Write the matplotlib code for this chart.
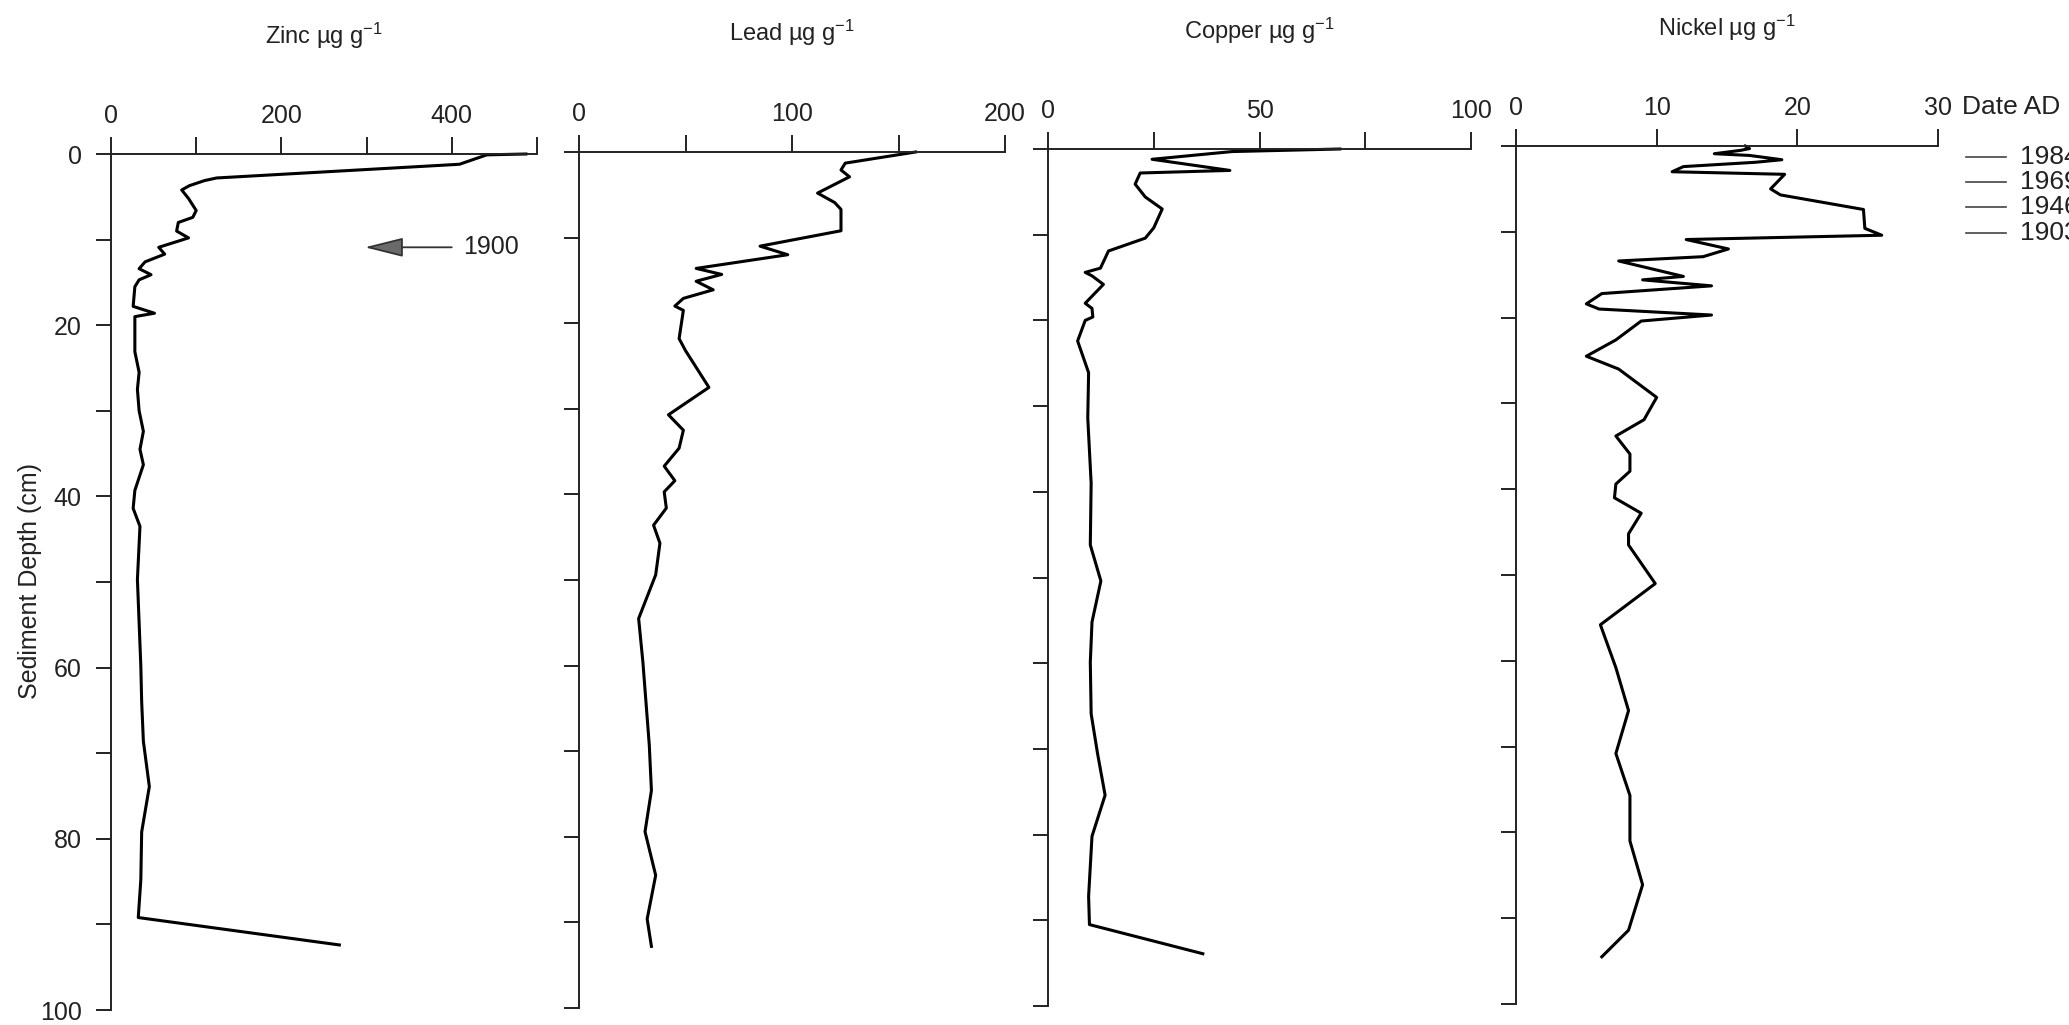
import matplotlib
matplotlib.use("Agg")
import matplotlib.pyplot as plt
from matplotlib.lines import Line2D

plt.rcParams['font.family'] = ['Liberation Sans', 'DejaVu Sans']
plt.rcParams['mathtext.fontset'] = 'custom'
plt.rcParams['mathtext.rm'] = 'Liberation Sans'

# sediment core profiles, depth in cm, concentrations in ug/g
zinc_depth = [0, 0.1, 1.2, 2.8, 3.1, 3.7, 4.2, 5.2, 6.6, 7.4, 8.0, 9.0, 9.8, 10.9,
              11.7, 12.6, 13.4, 14.1, 14.7, 15.5, 17.8, 18.6, 19.0, 23.1, 25.5,
              27.5, 30.0, 32.4, 34.5, 36.3, 39.3, 41.4, 43.5, 49.7, 59.8, 64.0,
              68.6, 73.9, 79.2, 84.8, 89.2, 92.4]
zinc = [487, 441, 409, 124, 110, 92, 83, 91, 100, 96, 79, 77, 91, 56,
        63, 40, 33, 47, 33, 28, 26, 51, 28, 28, 33,
        31, 33, 38, 34, 38, 28, 26, 34, 31, 35, 36,
        38, 45, 36, 35, 32, 268]

lead_depth = [0, 1.3, 2.1, 2.9, 4.8, 5.9, 6.7, 9.2, 11.0, 12.0, 13.6, 14.3, 15.1,
              16.1, 17.1, 18.0, 18.5, 21.8, 23.2, 27.5, 30.7, 32.5, 34.6, 36.7,
              38.4, 39.7, 41.6, 43.6, 45.7, 49.4, 54.5, 59.6, 69.3, 74.6, 79.4,
              84.5, 89.6, 92.8]
lead = [158, 125, 123, 127, 112, 120, 123, 123, 85, 98, 55, 67, 55,
        63, 49, 45, 49, 47, 50, 61, 42, 49, 47, 40,
        45, 40, 41, 35, 38, 36, 28, 30, 33, 34, 31,
        36, 32, 34]

copper_depth = [0, 0.3, 1.2, 2.5, 2.8, 4.1, 5.6, 7.0, 9.2, 10.4, 11.9, 13.9, 14.4,
                14.8, 15.8, 18.0, 18.6, 19.6, 20.0, 22.4, 26.1, 31.4, 39.0, 46.2,
                50.4, 55.2, 59.9, 65.9, 70.5, 75.4, 80.2, 87.2, 90.5, 93.9]
copper = [69, 43.5, 24.6, 43, 21.8, 20.6, 23, 27, 25, 23, 14.3, 12.4, 8.8,
          10.4, 13.1, 8.8, 10.4, 10.6, 8.8, 7.0, 9.6, 9.4, 10.2, 10,
          12.5, 10.4, 10, 10.2, 11.7, 13.5, 10.4, 9.6, 9.8, 36.6]

nickel_depth = [0, 0.3, 0.5, 0.9, 1.1, 1.6, 1.9, 2.4, 3.0, 3.3, 5.0, 5.7, 7.4, 9.6,
                10.4, 10.9, 12.0, 12.9, 13.4, 15.2, 15.6, 16.3, 17.2, 18.4, 19.0,
                19.7, 20.4, 22.6, 24.5, 26.0, 29.3, 31.9, 33.8, 35.9, 37.9, 39.4,
                41.0, 42.8, 45.2, 46.5, 51.0, 55.8, 60.8, 65.8, 70.8, 75.7, 81.0,
                86.1, 91.4, 94.5]
nickel = [16.3, 16.6, 16.0, 14.1, 16.6, 18.9, 17.0, 11.9, 11.1, 19.1, 18.1, 18.8, 24.7, 24.8,
          26.0, 12.1, 15.1, 13.3, 7.3, 11.9, 9.0, 13.9, 6.1, 5.0, 5.9,
          13.9, 8.9, 7.1, 5.0, 7.3, 10.0, 9.1, 7.1, 8.1, 8.1, 7.1,
          7.0, 8.9, 8.0, 8.0, 9.9, 6.0, 7.1, 8.0, 7.1, 8.1, 8.1,
          9.0, 8.0, 6.1]

titles = ['Zinc µg g$\\mathregular{^{-1}}$', 'Lead µg g$\\mathregular{^{-1}}$',
          'Copper µg g$\\mathregular{^{-1}}$', 'Nickel µg g$\\mathregular{^{-1}}$']
x_max = [500, 200, 100, 30]
x_step = [100, 50, 25, 10]
x_labels = [['0', '', '200', '', '400', ''],
            ['0', '', '100', '', '200'],
            ['0', '', '50', '', '100'],
            ['0', '10', '20', '30']]
depth_ticks = list(range(0, 101, 10))
depth_labels = ['0', '', '20', '', '40', '', '60', '', '80', '', '100']

legend_title = 'Date AD'
legend_years = ['1984', '1969', '1946', '1903']

W, H = 2069, 1025
fig = plt.figure(figsize=(W / 100, H / 100), dpi=100)

# panel boxes in pixels: left, right, top, bottom (the scan is a touch rotated)
boxes = [(111, 537, 154, 1010), (579, 1005, 152, 1008),
         (1048, 1471, 149, 1006), (1516, 1938, 146, 1004)]
title_y = [36, 33, 31, 28]

series = [(zinc, zinc_depth), (lead, lead_depth),
          (copper, copper_depth), (nickel, nickel_depth)]

axes = []
for i, (l, r, t, b) in enumerate(boxes):
    ax = fig.add_axes([l / W, 1 - b / H, (r - l) / W, (b - t) / H])
    vals, depth = series[i]
    ax.plot(vals, depth, color='black', lw=2.2, clip_on=False)

    ax.set_xlim(0, x_max[i])
    ax.set_ylim(100, 0)
    ax.xaxis.tick_top()
    ax.set_xticks(range(0, x_max[i] + 1, x_step[i]))
    ax.set_xticklabels(x_labels[i])
    ax.set_yticks(depth_ticks)
    if i == 0:
        ax.set_yticklabels(depth_labels)
    else:
        ax.set_yticklabels([])

    for side in ['right', 'bottom']:
        ax.spines[side].set_visible(False)
    for side in ['top', 'left']:
        ax.spines[side].set_linewidth(1.4)
        ax.spines[side].set_color('#222222')
    ax.tick_params(axis='x', direction='out', length=12, width=1.4,
                   pad=7, labelsize=18, colors='#222222', labelcolor='#222222')
    ax.tick_params(axis='y', direction='out', length=11, width=1.4,
                   pad=10, labelsize=18, colors='#222222', labelcolor='#222222')
    ax.patch.set_alpha(0)

    cx = (l + r) / 2 / W
    fig.text(cx, 1 - title_y[i] / H, titles[i], ha='center', va='center',
             fontsize=17, color='#222222')
    axes.append(ax)

fig.text(30 / W, 1 - 581 / H, 'Sediment Depth (cm)', rotation=90,
         ha='center', va='center', fontsize=18, color='#222222')

# arrow marking the 1900 horizon in the zinc profile
axes[0].annotate('1900', xy=(298, 10.9), xytext=(413, 10.9),
                 ha='left', va='center', fontsize=18, color='#222222',
                 arrowprops=dict(arrowstyle='-|>,head_length=1.2,head_width=0.3',
                                 mutation_scale=20, lw=1.3, color='#333333',
                                 fc='#6a6a6a', shrinkA=6, shrinkB=0))

# date legend on the right edge, running off the figure
fig.text(1962 / W, 1 - 107 / H, legend_title, ha='left', va='center',
         fontsize=19, color='#222222')
legend_rows = [157, 182, 207, 233]
for year, y in zip(legend_years, legend_rows):
    fig.add_artist(Line2D([1966 / W, 2006 / W], [1 - y / H, 1 - y / H],
                          color='#444444', lw=1.2))
    fig.text(2020 / W, 1 - y / H, year, ha='left', va='center',
             fontsize=19, color='#222222')

fig.savefig('out.png', dpi=100)
